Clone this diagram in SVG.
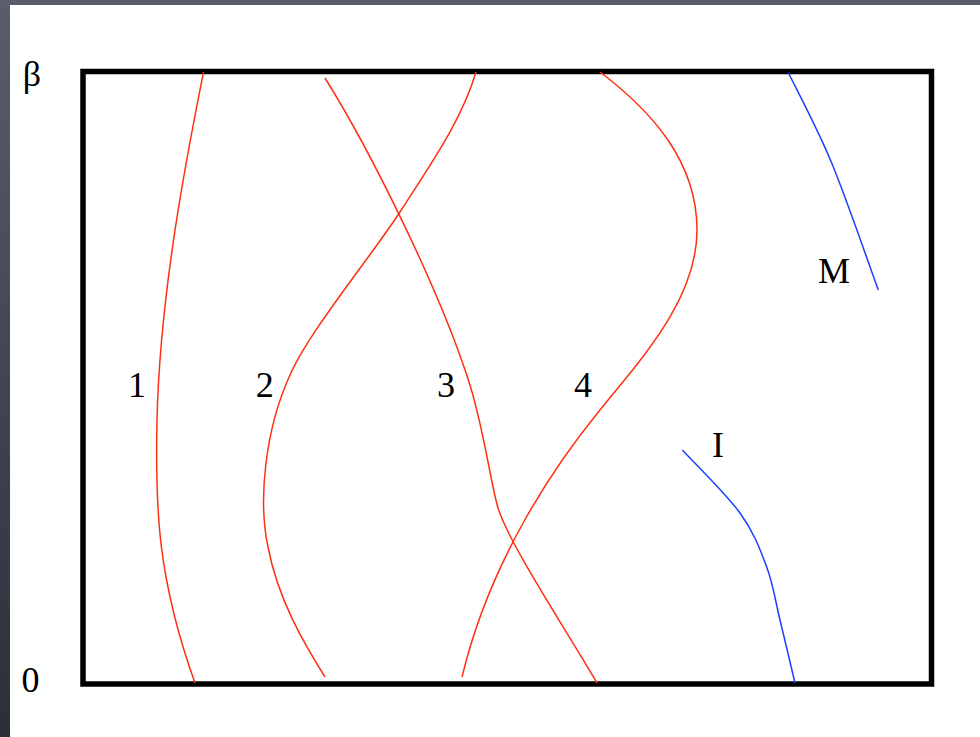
<svg xmlns="http://www.w3.org/2000/svg" width="980" height="737" viewBox="0 0 980 737">
  <defs>
    <linearGradient id="bg" x1="0" y1="0" x2="0" y2="1">
      <stop offset="0" stop-color="#5a5e6c"/>
      <stop offset="1" stop-color="#2c2f38"/>
    </linearGradient>
  </defs>
  <style>
    .lbl { font-family: "Liberation Serif", "Times New Roman", serif; font-size: 36px; fill: #000; text-anchor: middle; }
    .red { fill: none; stroke: #ff3010; stroke-width: 1.5; }
    .blue { fill: none; stroke: #1a40ff; stroke-width: 1.5; }
  </style>
  <rect x="0" y="0" width="980" height="737" fill="url(#bg)"/>
  <rect x="10" y="5" width="970" height="732" fill="#ffffff"/>
  <rect id="frame" x="83" y="71.5" width="848.5" height="612.5" fill="none" stroke="#000" stroke-width="5.5"/>

  <g id="connectors">
    <path id="curve1" class="red" d="M203.5,72 C188,150 160,290 157,420 C155,510 158,580 195,683"/>
    <path id="curve2" class="red" d="M476,72 C462,120 430,165 400,212 C370,258 310,330 290,375 C265,430 258,500 268,547 C278,600 305,645 325,677"/>
    <path id="curve3" class="red" d="M325,78 C370,150 440,290 470,385 C485,435 490,480 498,508 C510,545 560,620 597,683"/>
    <path id="curve4" class="red" d="M600,72 C650,110 697,160 697,230 C697,300 640,360 600,410 C555,465 490,560 462,677"/>
    <path id="curveM" class="blue" d="M788.3,72.5 C795.5,87.6 816.7,126.7 831.7,163 C846.7,199.3 870.5,268.8 878.3,290"/>
    <path id="curveI" class="blue" d="M682.3,450 C691.9,460.5 725.9,493.5 740,513 C754.1,532.5 760,549.2 766.7,567 C773.4,584.8 775.3,600.7 780,620 C784.7,639.3 792.5,672.5 795,683"/>
  </g>

  <g id="label-beta"><text class="lbl" x="32" y="86">β</text></g>
  <g id="label-zero"><text class="lbl" x="30.5" y="692">0</text></g>
  <g id="label-1"><text class="lbl" x="137" y="397">1</text></g>
  <g id="label-2"><text class="lbl" x="264.7" y="397">2</text></g>
  <g id="label-3"><text class="lbl" x="446" y="397">3</text></g>
  <g id="label-4"><text class="lbl" x="583" y="397">4</text></g>
  <g id="label-M"><text class="lbl" x="834" y="283">M</text></g>
  <g id="label-I"><text class="lbl" x="718" y="457">I</text></g>
</svg>
